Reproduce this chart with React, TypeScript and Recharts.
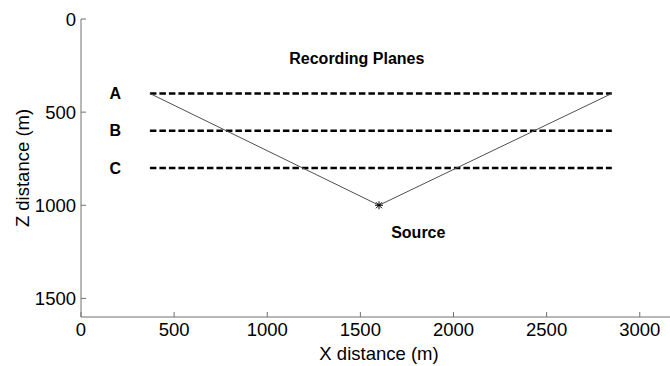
import {
  ComposedChart,
  Line,
  Scatter,
  XAxis,
  YAxis,
  ReferenceDot,
} from 'recharts';

// recording planes (depth in m) and their labels
const planeNames = ['A', 'B', 'C'];
const planeDepths = [400, 600, 800];
const planeStartX = 370;
const planeEndX = 2850;
const planeLabelX = 184;

// ray path from receiver A through source and back up
const rayX = [370, 1600, 2850];
const rayZ = [400, 1000, 400];

// source position
const sourceX = [1600];
const sourceZ = [1000];

const xTicks = [0, 500, 1000, 1500, 2000, 2500, 3000];
const zTicks = [0, 500, 1000, 1500];

const titleText = 'Recording Planes';
const titlePos = { x: 1481, z: 210 };
const sourceText = 'Source';
const sourceLabelPos = { x: 1811, z: 1146 };

const FONT = '"Liberation Sans", Arial, sans-serif';
const AXIS = '#707070';

const planes = planeDepths.map((z) => [
  { x: planeStartX, z },
  { x: planeEndX, z },
]);
const ray = rayX.map((x, i) => ({ x, z: rayZ[i] }));
const source = sourceX.map((x, i) => ({ x, z: sourceZ[i] }));

const TextMark = (text: string, size = 16) => (props: any) => (
  <text
    x={props.cx}
    y={props.cy}
    textAnchor="middle"
    dominantBaseline="central"
    fontFamily={FONT}
    fontWeight="bold"
    fontSize={size}
    fill="#000"
  >
    {text}
  </text>
);

const Star = (props: any) => {
  const { cx, cy } = props;
  const r = 4;
  const d = r * 0.75;
  return (
    <g stroke="#000" strokeWidth={1}>
      <line x1={cx - r} y1={cy} x2={cx + r} y2={cy} />
      <line x1={cx} y1={cy - r} x2={cx} y2={cy + r} />
      <line x1={cx - d} y1={cy - d} x2={cx + d} y2={cy + d} />
      <line x1={cx - d} y1={cy + d} x2={cx + d} y2={cy - d} />
    </g>
  );
};

export default function App() {
  const tickStyle = { fontFamily: FONT, fontSize: 18.5, fill: '#000' };
  return (
    <div
      style={{
        position: 'fixed',
        left: 0,
        top: 0,
        width: 670,
        height: 366,
        overflow: 'hidden',
        background: '#fff',
      }}
    >
      <ComposedChart width={680} height={366} margin={{ top: 19, right: 3, bottom: 0, left: 0 }}>
        <XAxis
          type="number"
          dataKey="x"
          domain={[0, 3200]}
          ticks={xTicks}
          interval={0}
          height={49}
          tickSize={-5}
          tickMargin={11}
          tick={tickStyle}
          stroke={AXIS}
          axisLine={{ stroke: AXIS }}
          tickLine={{ stroke: AXIS }}
          label={{
            content: ({ viewBox }: any) => (
              <text
                x={viewBox.x + viewBox.width / 2}
                y={viewBox.y + 36}
                textAnchor="middle"
                dominantBaseline="central"
                fontFamily={FONT}
                fontSize={18.5}
                fill="#000"
              >
                X distance (m)
              </text>
            ),
          }}
        />
        <YAxis
          type="number"
          dataKey="z"
          reversed
          domain={[0, 1600]}
          ticks={zTicks}
          interval={0}
          width={81}
          tickSize={-5}
          tickMargin={10}
          tick={tickStyle}
          stroke={AXIS}
          axisLine={{ stroke: AXIS }}
          tickLine={{ stroke: AXIS }}
          label={{
            content: ({ viewBox }: any) => {
              const cy = viewBox.y + viewBox.height / 2;
              return (
                <text
                  transform={`translate(22, ${cy}) rotate(-90)`}
                  textAnchor="middle"
                  dominantBaseline="central"
                  fontFamily={FONT}
                  fontSize={18.5}
                  fill="#000"
                >
                  Z distance (m)
                </text>
              );
            },
          }}
        />

        {/* recording planes */}
        {planes.map((p, i) => (
          <Line
            key={planeNames[i]}
            data={p}
            dataKey="z"
            type="linear"
            stroke="#000"
            strokeWidth={2.5}
            strokeDasharray="6.5 3"
            dot={false}
            activeDot={false}
            isAnimationActive={false}
          />
        ))}

        {/* ray path */}
        <Line
          data={ray}
          dataKey="z"
          type="linear"
          stroke="#505050"
          strokeWidth={1}
          dot={false}
          activeDot={false}
          isAnimationActive={false}
        />

        <Scatter data={source} dataKey="z" shape={Star} isAnimationActive={false} />

        {planeNames.map((name, i) => (
          <ReferenceDot
            key={'lbl' + name}
            x={planeLabelX}
            y={planeDepths[i]}
            shape={TextMark(name)}
          />
        ))}
        <ReferenceDot x={titlePos.x} y={titlePos.z} shape={TextMark(titleText)} />
        <ReferenceDot x={sourceLabelPos.x} y={sourceLabelPos.z} shape={TextMark(sourceText)} />
      </ComposedChart>
    </div>
  );
}
